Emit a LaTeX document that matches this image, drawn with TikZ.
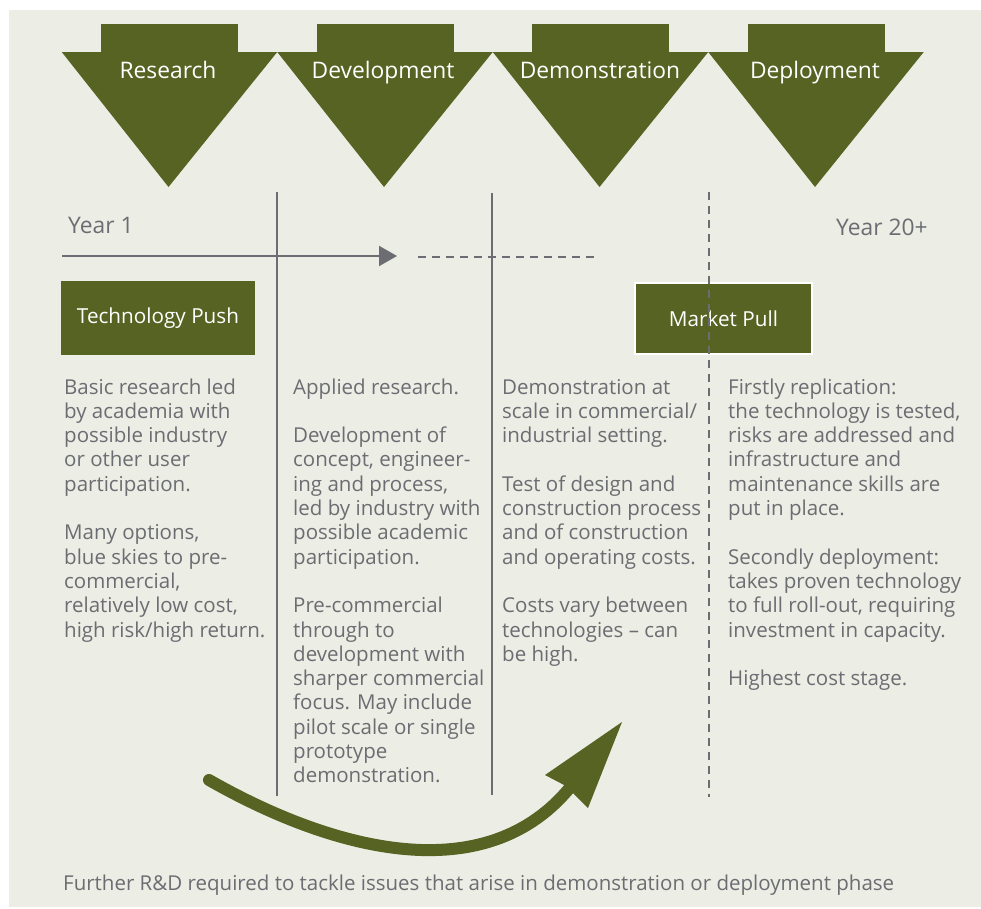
\documentclass[tikz,border=0pt]{standalone}
\usepackage{fontspec}
\setmainfont{Open Sans}
\usetikzlibrary{arrows.meta}
\definecolor{panel}{RGB}{236,237,228}
\definecolor{olive}{RGB}{86,99,34}
\definecolor{ink}{RGB}{108,109,114}
% stacked lines whose baseline is that of the first line
\newcommand\colrows[1]{\vtop{\baselineskip=24.3pt\lineskiplimit=-30pt\halign{##\hfil\cr#1\crcr}}}
\begin{document}
\begin{tikzpicture}[x=1pt,y=-1pt,
  stagelabel/.style={text=white,font=\fontsize{22.8}{26}\selectfont,anchor=base,inner sep=0pt},
  body/.style={text=ink,font=\fontsize{20.5}{24.3}\selectfont,anchor=base west,inner sep=0pt},
  yearlabel/.style={text=ink,font=\fontsize{22.8}{26}\selectfont,anchor=base west,inner sep=0pt},
  forcebox/.style={fill=olive,text=white,font=\fontsize{20.7}{24}\selectfont,inner sep=0pt},
  divider/.style={draw=ink,line width=2pt},
  timeline/.style={draw=ink,line width=2pt}]
% canvas and panel
\useasboundingbox (0,0) rectangle (981,908);
\fill[white] (0,0) rectangle (981,908);
\fill[panel] (9,10) rectangle (981,907);

% four stage chevrons
\foreach \k in {0,1,2,3}{
  \pgfmathsetmacro{\cx}{169.5+215.5*\k}
  \fill[olive] (\cx-68.5,24) rectangle (\cx+68.5,53);
  \fill[olive] (\cx-107.75,52) -- (\cx+107.75,52) -- (\cx-1,187) -- cycle;
}
\node[stagelabel] (research) at (168,78) {Research};
\node[stagelabel] (development) at (383,78) {Development};
\node[stagelabel] (demonstration) at (600,78) {Demonstration};
\node[stagelabel] (deployment) at (815,78) {Deployment};

% column dividers
\coordinate (d1top) at (277,192); \coordinate (d1bot) at (277,796);
\coordinate (d2top) at (492,193); \coordinate (d2bot) at (492,795);
\coordinate (d3top) at (709,192); \coordinate (d3bot) at (709,797);
\draw[divider] (d1top) -- (d1bot);
\draw[divider] (d2top) -- (d2bot);

% time axis
\node[yearlabel] (year1) at (68,233) {Year 1};
\node[yearlabel] (year20) at (836,235) {Year 20+};
\coordinate (axisstart) at (62,256);
\coordinate (axisend) at (397,256);
\coordinate (dashstart) at (418,257);
\coordinate (dashend) at (597,257);
\draw[timeline,-{Triangle[length=18pt,width=20pt]}] (axisstart) -- (axisend);
\draw[timeline,dash pattern=on 8pt off 6pt] (dashstart) -- (dashend);

% push and pull boxes
\node[forcebox,minimum width=194pt,minimum height=74pt] (push) at (158,318) {Technology Push};
\node[forcebox,draw=white,line width=2pt,minimum width=177pt,minimum height=71pt] (pull) at (723.5,318.5) {Market Pull};
\draw[divider,dash pattern=on 8pt off 6pt] (d3top) -- (d3bot);

% column texts
\node[body] (col1) at (64,394) {\colrows{Basic research led\cr by academia with\cr possible industry\cr or other user\cr participation.\cr\cr Many options,\cr blue skies to pre-\cr commercial,\cr relatively low cost,\cr high risk/high return.}};
\node[body] (col2) at (293,394) {\colrows{Applied research.\cr\cr Development of\cr concept, engineer-\cr ing and process,\cr led by industry with\cr possible academic\cr participation.\cr\cr Pre-commercial\cr through to\cr development with\cr sharper commercial\cr focus. May include\cr pilot scale or single\cr prototype\cr demonstration.}};
\node[body] (col3) at (502,394) {\colrows{Demonstration at\cr scale in commercial/\cr industrial setting.\cr\cr Test of design and\cr construction process\cr and of construction\cr and operating costs.\cr\cr Costs vary between\cr technologies -- can\cr be high.}};
\node[body] (col4) at (728,394) {\colrows{Firstly replication:\cr the technology is tested,\cr risks are addressed and\cr infrastructure and\cr maintenance skills are\cr put in place.\cr\cr Secondly deployment:\cr takes proven technology\cr to full roll-out, requiring\cr investment in capacity.\cr\cr Highest cost stage.}};

% feedback arrow
\coordinate (loopstart) at (209,780);
\coordinate (loopend) at (572,785);
\coordinate (looptip) at (622,722);
\draw[olive,line width=12pt,line cap=round] (loopstart) .. controls (330,849) and (486,893) .. (loopend);
\fill[olive] (looptip) -- (545,775) -- (566,786) -- (588,808) -- cycle;

\node[text=ink,font=\fontsize{20.5}{24}\selectfont,anchor=base west,inner sep=0pt] (note) at (63,890) {Further R\&D required to tackle issues that arise in demonstration or deployment phase};
\end{tikzpicture}
\end{document}
